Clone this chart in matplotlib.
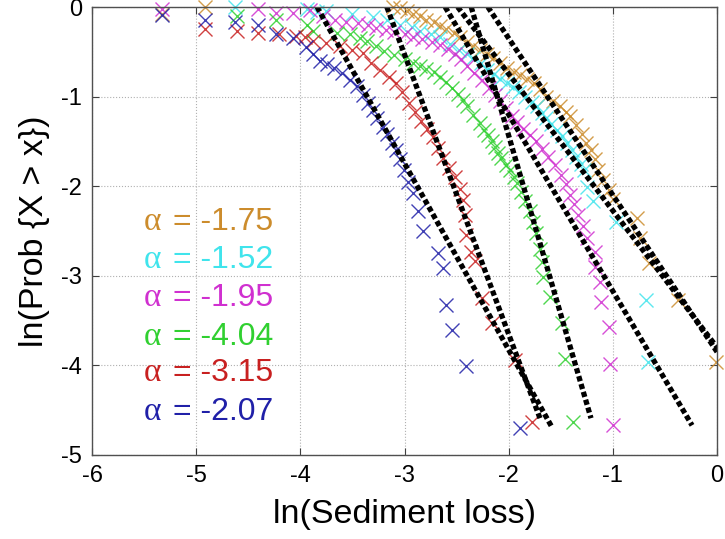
import matplotlib
matplotlib.use('Agg')
import matplotlib.pyplot as plt

plt.rcParams['font.family'] = ['Liberation Sans', 'DejaVu Sans']

orange_x = [-5.33, -4.92, -3.11, -3.04, -2.98, -2.92, -2.85, -2.79, -2.72, -2.66, -2.60, -2.53,
            -2.47, -2.40, -2.34, -2.28, -2.21, -2.15, -2.08, -2.02, -1.95, -1.89, -1.82, -1.76,
            -1.70, -1.64, -1.57, -1.51, -1.45, -1.41, -1.35, -1.30, -1.26, -1.21, -1.17, -1.14,
            -1.09, -1.04, -1.00, -0.77, -0.74, -0.65, -0.37, -0.01]
orange_y = [-0.08, 0.0, 0.0, -0.01, -0.04, -0.08, -0.10, -0.14, -0.17, -0.21, -0.25, -0.29,
            -0.34, -0.39, -0.43, -0.48, -0.52, -0.57, -0.62, -0.68, -0.72, -0.76, -0.80, -0.85,
            -0.92, -1.00, -1.05, -1.11, -1.17, -1.22, -1.32, -1.42, -1.52, -1.60, -1.70, -1.82,
            -1.93, -2.04, -2.14, -2.36, -2.58, -2.86, -3.27, -3.96]

cyan_x = [-4.63, -3.94, -3.84, -3.75, -3.50, -3.30, -3.17, -3.04, -2.93, -2.85, -2.75, -2.66,
          -2.56, -2.48, -2.40, -2.34, -2.27, -2.21, -2.14, -2.08, -2.02, -1.96, -1.90, -1.84,
          -1.78, -1.73, -1.68, -1.64, -1.59, -1.54, -1.49, -1.44, -1.39, -1.35, -1.31, -1.28,
          -1.25, -1.19, -0.97, -0.68, -0.66]
cyan_y = [0.0, -0.02, -0.06, -0.05, -0.08, -0.11, -0.15, -0.20, -0.22, -0.27, -0.30, -0.34,
          -0.41, -0.48, -0.53, -0.57, -0.63, -0.70, -0.75, -0.80, -0.85, -0.89, -0.95, -1.00,
          -1.06, -1.11, -1.18, -1.24, -1.31, -1.37, -1.44, -1.52, -1.60, -1.67, -1.75, -1.82,
          -2.01, -2.16, -2.40, -3.27, -3.96]

magenta_x = [-5.33, -4.41, -4.23, -4.07, -3.91, -3.78, -3.67, -3.56, -3.45, -3.35, -3.27, -3.18,
             -3.10, -3.00, -2.92, -2.83, -2.74, -2.66, -2.58, -2.52, -2.46, -2.40, -2.33, -2.26,
             -2.19, -2.13, -2.08, -2.03, -1.97, -1.92, -1.86, -1.80, -1.74, -1.68, -1.62, -1.56,
             -1.50, -1.45, -1.41, -1.37, -1.33, -1.29, -1.25, -1.17, -1.17, -1.12, -1.11, -1.04,
             -1.03, -1.00]
magenta_y = [-0.02, -0.02, -0.07, -0.07, -0.03, -0.10, -0.14, -0.17, -0.18, -0.20, -0.23, -0.26,
             -0.28, -0.30, -0.33, -0.36, -0.39, -0.42, -0.47, -0.53, -0.58, -0.66, -0.74, -0.82,
             -0.90, -0.98, -1.05, -1.13, -1.22, -1.28, -1.36, -1.43, -1.50, -1.58, -1.67, -1.76,
             -1.87, -1.98, -2.10, -2.20, -2.32, -2.44, -2.58, -2.73, -2.90, -3.07, -3.29, -3.57,
             -3.98, -4.67]

green_x = [-4.61, -4.23, -3.94, -3.88, -3.65, -3.52, -3.43, -3.36, -3.27, -3.20, -3.10, -3.00,
           -2.92, -2.85, -2.79, -2.72, -2.66, -2.60, -2.54, -2.49, -2.44, -2.40, -2.34, -2.28,
           -2.24, -2.20, -2.16, -2.13, -2.10, -2.07, -2.03, -1.99, -1.95, -1.92, -1.88, -1.84,
           -1.80, -1.77, -1.74, -1.70, -1.68, -1.67, -1.60, -1.49, -1.46, -1.38]
green_y = [-0.10, -0.14, -0.20, -0.27, -0.29, -0.30, -0.35, -0.38, -0.43, -0.49, -0.54, -0.58,
           -0.63, -0.66, -0.69, -0.73, -0.78, -0.84, -0.90, -0.97, -1.04, -1.11, -1.20, -1.30,
           -1.37, -1.43, -1.50, -1.56, -1.63, -1.69, -1.76, -1.82, -1.90, -1.97, -2.06, -2.17,
           -2.28, -2.40, -2.52, -2.70, -2.85, -3.01, -3.24, -3.53, -3.93, -4.63]

red_x = [-4.92, -4.61, -4.41, -4.21, -4.04, -3.96, -3.88, -3.75, -3.62, -3.50, -3.40, -3.32,
         -3.24, -3.15, -3.08, -3.02, -2.96, -2.90, -2.84, -2.78, -2.73, -2.68, -2.63, -2.57,
         -2.52, -2.47, -2.44, -2.42, -2.41, -2.36, -2.32, -2.26, -2.16, -1.94, -1.78]
red_y = [-0.24, -0.27, -0.29, -0.30, -0.32, -0.34, -0.38, -0.40, -0.44, -0.48, -0.51, -0.62,
         -0.70, -0.78, -0.85, -0.95, -1.07, -1.17, -1.27, -1.36, -1.45, -1.57, -1.68, -1.80,
         -1.90, -2.03, -2.15, -2.32, -2.54, -2.73, -2.84, -3.25, -3.53, -3.94, -4.63]

blue_x = [-5.33, -4.92, -4.63, -4.41, -4.23, -4.07, -3.95, -3.88, -3.81, -3.74, -3.68, -3.60,
          -3.52, -3.46, -3.40, -3.35, -3.30, -3.26, -3.21, -3.17, -3.12, -3.08, -3.04, -3.01,
          -2.97, -2.92, -2.87, -2.82, -2.68, -2.63, -2.60, -2.54, -2.41, -1.89]
blue_y = [-0.09, -0.14, -0.17, -0.20, -0.30, -0.35, -0.45, -0.52, -0.60, -0.64, -0.68, -0.74,
          -0.81, -0.88, -0.98, -1.07, -1.15, -1.24, -1.34, -1.42, -1.52, -1.60, -1.70, -1.82,
          -1.95, -2.08, -2.28, -2.50, -2.75, -2.91, -3.33, -3.60, -4.01, -4.70]

# Fitted lines: (x_start, x_end), (y_start, y_end)
fit_orange = ([-2.20, 0.0], [0.0, -3.85])
fit_cyan = ([-2.49, 0.0], [0.0, -3.80])
fit_magenta = ([-2.61, -0.24], [0.0, -4.67])
fit_green = ([-2.36, -1.21], [0.0, -4.59])
fit_red = ([-3.17, -1.70], [0.0, -4.59])
fit_blue = ([-3.84, -1.59], [0.0, -4.68])

alphas = ['-1.75', '-1.52', '-1.95', '-4.04', '-3.15', '-2.07']
colors = ['#cc8c2c', '#40e4ec', '#d030d0', '#30d030', '#c82020', '#2020a8']

series = [(orange_x, orange_y), (cyan_x, cyan_y), (magenta_x, magenta_y),
          (green_x, green_y), (red_x, red_y), (blue_x, blue_y)]
fits = [fit_orange, fit_cyan, fit_magenta, fit_green, fit_red, fit_blue]

fig = plt.figure(figsize=(7.25, 5.39), dpi=100)
ax = fig.add_axes([0.127, 0.156, 0.862, 0.831])

for (xs, ys), c in zip(series, colors):
    ax.plot(xs, ys, linestyle='none', marker='x', markersize=10.5, markeredgewidth=1.0,
            color=c, alpha=0.85, clip_on=False)

for fx, fy in fits:
    ax.plot(fx, fy, color='black', linewidth=3.8, linestyle=(0, (1.0, 0.55)),
            dash_capstyle='butt')

# alpha annotations
label_y = [-2.40, -2.82, -3.25, -3.68, -4.08, -4.52]
for a, c, ly in zip(alphas, colors, label_y):
    ax.text(-5.50, ly, 'α', color=c, fontsize=24, family=['Liberation Serif', 'DejaVu Serif'],
            va='center', ha='left')
    ax.text(-5.22, ly, '= ' + a, color=c, fontsize=23, va='center', ha='left')

ax.set_xlim(-6, 0)
ax.set_ylim(-5, 0)
ax.set_xticks(range(-6, 1))
ax.set_yticks(range(-5, 1))
ax.set_xticklabels([str(v) for v in range(-6, 1)])
ax.set_yticklabels([str(v) for v in range(-5, 1)])
ax.tick_params(direction='in', top=True, right=True, labelsize=17, length=5, pad=7,
               color='#404040')
ax.grid(True, color='#b0b0b0', linestyle=':', linewidth=0.8)
for s in ax.spines.values():
    s.set_color('#505050')
    s.set_linewidth(1.0)

ax.set_xlabel('ln(Sediment loss)', fontsize=24.5, labelpad=9)
ax.set_ylabel('ln(Prob {X > x})', fontsize=24.5)
ax.yaxis.set_label_coords(-0.068, 0.5)

plt.savefig('out.png', dpi=100)
